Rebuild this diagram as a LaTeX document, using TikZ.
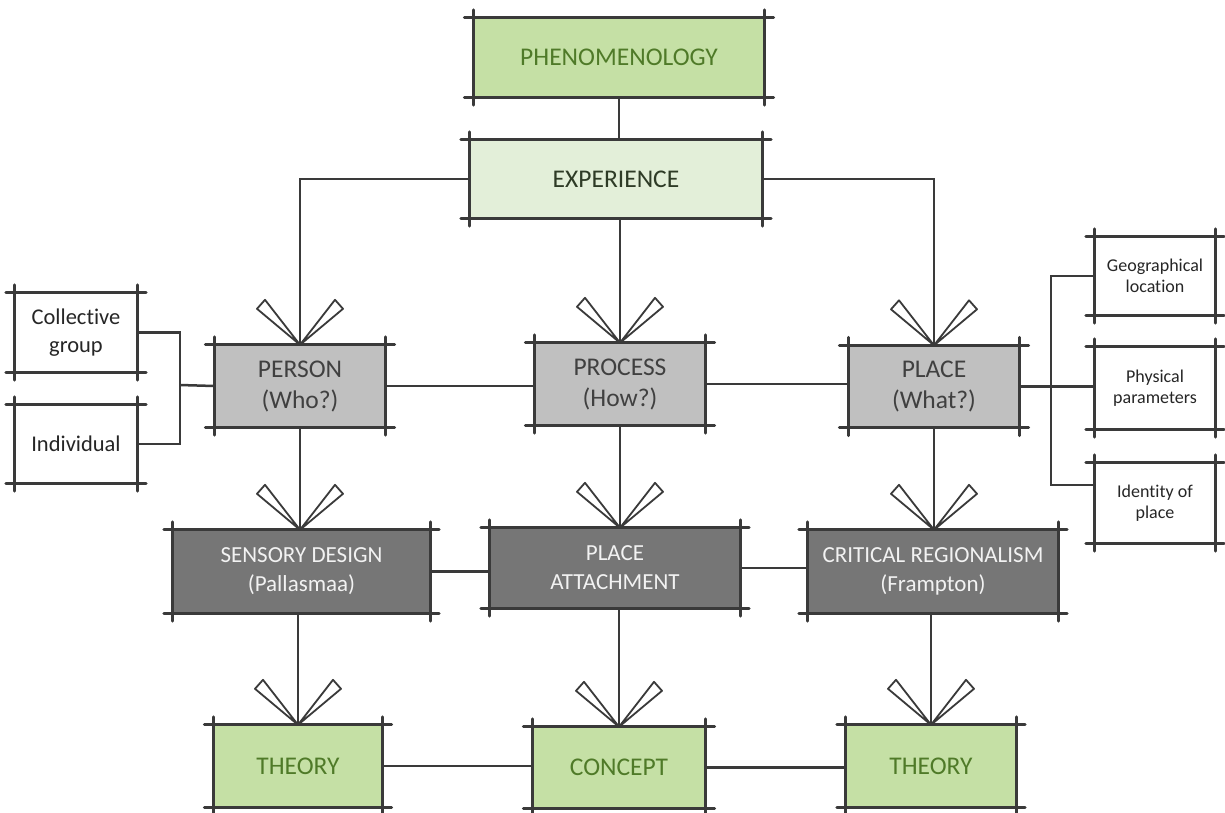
\documentclass[tikz,border=0pt]{standalone}
\usepackage{fontspec}
\setmainfont{Carlito}[Ligatures=NoCommon]
\definecolor{gfill}{HTML}{C5E0A5}
\definecolor{lgfill}{HTML}{E3EFD9}
\definecolor{gtext}{HTML}{4F7A28}
\definecolor{etext}{HTML}{2E3B26}
\definecolor{grayfill}{HTML}{C0C0C0}
\definecolor{graytext}{HTML}{404040}
\definecolor{darkfill}{HTML}{767676}
\definecolor{darktext}{HTML}{F2F2F2}
\definecolor{edgec}{HTML}{3A3A3A}
\tikzset{
  bx/.style={inner sep=0pt, align=center},
  gbox/.style={bx, fill=gfill, text=gtext, font=\fontsize{25.5}{30}\selectfont},
  lgbox/.style={bx, fill=lgfill, text=etext, font=\fontsize{25.5}{30}\selectfont},
  graybox/.style={bx, fill=grayfill, text=graytext, font=\fontsize{25.5}{31}\selectfont, minimum width=171pt, minimum height=82pt},
  darkbox/.style={bx, fill=darkfill, text=darktext, font=\fontsize{23}{29}\selectfont},
  wbox/.style={bx, fill=white, text=black!85, font=\fontsize{22.5}{28}\selectfont, minimum width=122pt},
  sbox/.style={bx, fill=white, text=black!85, font=\fontsize{18}{21}\selectfont, minimum width=120pt},
  conn/.style={draw=edgec, line width=2.5pt},
  skedge/.style={draw=edgec, line width=2.8pt, line cap=round},
  headline/.style={draw=edgec, line width=1.8pt, fill=white, line join=round},
  vhead/.pic={
    \path[headline] (0,0) -- (-43,-36) -- (-35,-45) -- cycle;
    \path[headline] (0,0) -- (43,-36) -- (35,-45) -- cycle;
  }
}
\begin{document}
\begin{tikzpicture}[x=1pt,y=-1pt]
\useasboundingbox[fill=white] (0,0) rectangle (1225,812);

% nodes
\node[gbox, minimum width=291pt, minimum height=79pt] (phen) at (619,57.5) {PHENOMENOLOGY};
\node[lgbox, minimum width=292pt, minimum height=78pt] (exp) at (616,179) {EXPERIENCE};
\node[graybox] (person) at (300,386) {PERSON\\(Who?)};
\node[graybox] (process) at (620,384) {PROCESS\\(How?)};
\node[graybox] (place) at (934,386.5) {PLACE\\(What?)};
\node[darkbox, minimum width=257pt, minimum height=83pt] (sensory) at (301.5,571.5) {SENSORY DESIGN\\(Pallasmaa)};
\node[darkbox, minimum width=250pt, minimum height=80pt] (attach) at (615,568) {PLACE\\ATTACHMENT};
\node[darkbox, minimum width=250pt, minimum height=83pt] (critical) at (933,571.5) {CRITICAL REGIONALISM\\(Frampton)};
\node[gbox, minimum width=169pt, minimum height=82pt] (theory1) at (298,766) {THEORY};
\node[gbox, minimum width=173pt, minimum height=81pt] (concept) at (619,767.5) {CONCEPT};
\node[gbox, minimum width=170pt, minimum height=82pt] (theory2) at (931,766) {THEORY};
\node[wbox, minimum height=79pt] (coll) at (76,332.5) {Collective\\group};
\node[wbox, minimum height=78pt] (indiv) at (76,444) {Individual};
\node[sbox, minimum height=78pt] (geo) at (1155,276) {Geographical\\location};
\node[sbox, minimum height=82pt] (phys) at (1155,388) {Physical\\parameters};
\node[sbox, minimum height=80pt] (ident) at (1155,503) {Identity of\\place};

\coordinate (lbus) at (180,385);
\coordinate (rbus) at (1051,387);

% connectors
\draw[conn] (phen.south) -- (phen.south |- exp.north);
\draw[conn] (exp.west) -| (person.north);
\draw[conn] (exp.south -| process.north) -- (process.north);
\draw[conn] (exp.east) -| (place.north);
\draw[conn] (person.east) -- (person.east -| process.west);
\draw[conn] (process.east) -- (process.east -| place.west);
\draw[conn] (coll.east) -| (lbus) |- (indiv.east);
\draw[conn] (lbus) -- (person.west);
\draw[conn] (place.east) -- (place.east -| phys.west);
\draw[conn] (geo.west) -| (rbus) |- ([yshift=18pt]ident.west);
\draw[conn] (person.south) -- (person.south |- sensory.north);
\draw[conn] (process.south) -- (process.south |- attach.north);
\draw[conn] (place.south) -- (place.south |- critical.north);
\draw[conn] (sensory.east) -- (sensory.east -| attach.west);
\draw[conn] (attach.east) -- (attach.east -| critical.west);
\draw[conn] (theory1.north |- sensory.south) -- (theory1.north);
\draw[conn] (concept.north |- attach.south) -- (concept.north);
\draw[conn] (theory2.north |- critical.south) -- (theory2.north);
\draw[conn] (theory1.east) -- (theory1.east -| concept.west);
\draw[conn] (concept.east) -- (concept.east -| theory2.west);

% sketchy box edges
\foreach \n in {phen,exp,person,process,place,sensory,attach,critical,theory1,concept,theory2,coll,indiv,geo,phys,ident}{
  \draw[skedge] ([xshift=-9pt]\n.north west) -- ([xshift=9pt]\n.north east);
  \draw[skedge] ([xshift=-9pt]\n.south west) -- ([xshift=9pt]\n.south east);
  \draw[skedge] ([yshift=8pt]\n.north west) -- ([yshift=-8pt]\n.south west);
  \draw[skedge] ([yshift=8pt]\n.north east) -- ([yshift=-8pt]\n.south east);
}

% arrowheads
\pic at (person.north) {vhead};
\pic at (process.north) {vhead};
\pic at (place.north) {vhead};
\pic at (person.south |- sensory.north) {vhead};
\pic at (process.south |- attach.north) {vhead};
\pic at (place.south |- critical.north) {vhead};
\pic at (theory1.north) {vhead};
\pic at (concept.north) {vhead};
\pic at (theory2.north) {vhead};
\end{tikzpicture}
\end{document}
